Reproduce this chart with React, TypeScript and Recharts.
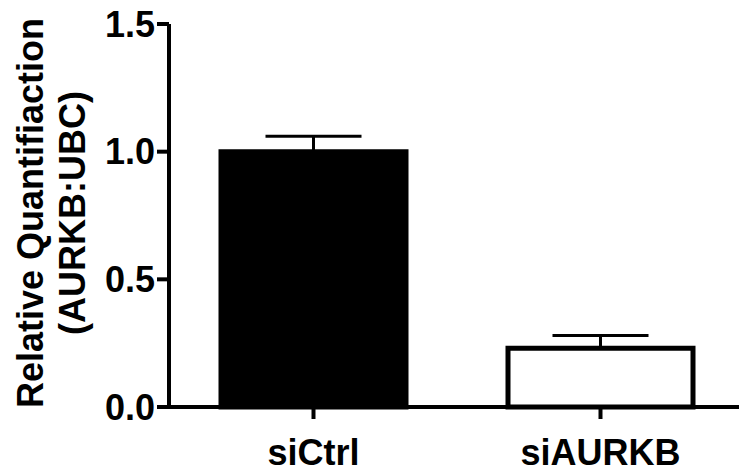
import { Bar, BarChart, Cell, ErrorBar, XAxis, YAxis } from 'recharts';

const categories = ['siCtrl', 'siAURKB'];
const means = [1.0, 0.23];
const sems = [0.06, 0.05];
const fills = ['#000000', '#ffffff'];
const yTicks = [0, 0.5, 1.0, 1.5];
const yLabelLines = ['Relative Quantifiaction', '(AURKB:UBC)'];

const font = "'Liberation Sans', Arial, sans-serif";

// one-sided (upward) error bars like the original figure
const data = categories.map((name, i) => ({
  name,
  mean: means[i],
  err: [0, sems[i]],
}));

const YTitle = () => (
  <g>
    <text
      x={43}
      y={213}
      transform='rotate(-90, 43, 213)'
      textAnchor='middle'
      fontFamily={font}
      fontWeight='bold'
      fontSize={36}
      fill='#000'>
      {yLabelLines[0]}
    </text>
    <text
      x={85}
      y={213}
      transform='rotate(-90, 85, 213)'
      textAnchor='middle'
      fontFamily={font}
      fontWeight='bold'
      fontSize={36}
      fill='#000'>
      {yLabelLines[1]}
    </text>
  </g>
);

export default function App() {
  return (
    <div style={{ position: 'absolute', left: 0, top: 0, background: '#fff' }}>
      <BarChart
        width={739}
        height={472}
        data={data}
        margin={{ top: 24, right: 0, bottom: 0, left: 0 }}>
        <XAxis
          dataKey='name'
          height={65}
          padding={{ left: 1, right: -5 }}
          stroke='#000'
          strokeWidth={4}
          tickSize={12}
          tickMargin={20}
          tick={{
            fill: '#000',
            fontSize: 36,
            fontWeight: 'bold',
            fontFamily: font,
          }}
        />
        <YAxis
          width={169}
          domain={[0, 1.5]}
          ticks={yTicks}
          tickFormatter={(v: number) => v.toFixed(1)}
          stroke='#000'
          strokeWidth={4}
          tickSize={12}
          tickMargin={2}
          tick={{
            fill: '#000',
            fontSize: 36,
            fontWeight: 'bold',
            fontFamily: font,
          }}
          label={{ content: () => <YTitle /> }}
        />
        <Bar
          dataKey='mean'
          barSize={185}
          stroke='#000'
          strokeWidth={5}
          isAnimationActive={false}>
          {data.map((_, i) => (
            <Cell key={i} fill={fills[i]} />
          ))}
          <ErrorBar
            dataKey='err'
            width={48}
            stroke='#000'
            strokeWidth={3}
            isAnimationActive={false}
          />
        </Bar>
      </BarChart>
    </div>
  );
}
